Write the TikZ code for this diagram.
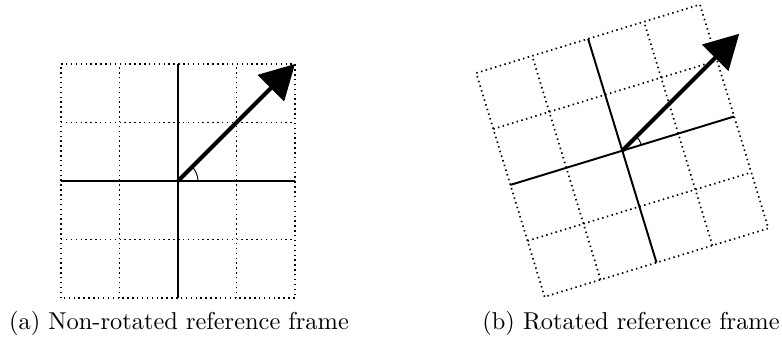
\documentclass[tikz,border=0pt]{standalone}
\usetikzlibrary{arrows.meta}
\begin{document}
\begin{tikzpicture}[x=0.41pt,y=0.41pt,
  gridline/.style={line width=0.7pt, dash pattern=on 0.6pt off 1.4pt},
  axisline/.style={line width=0.8pt},
  vec/.style={line width=1.6pt,-{Triangle[length=14pt,width=15pt]}},
  anglearc/.style={line width=0.4pt},
  captext/.style={anchor=base, inner sep=0pt}]
\useasboundingbox (0,0) rectangle (782,341);
% ---------- (a) non-rotated ----------
\begin{scope}[shift={(178,160)}]
  \coordinate (oa) at (0,0);
  \draw[gridline] (-117,-117) rectangle (117,117);
  \foreach \i in {-1,1} {
    \draw[gridline] (\i*58.5,-117) -- (\i*58.5,117);
    \draw[gridline] (-117,\i*58.5) -- (117,\i*58.5);
  }
  \coordinate (xla) at (-117,0);
  \coordinate (xra) at (117,0);
  \coordinate (yba) at (0,-117);
  \coordinate (yta) at (0,117);
  \coordinate (ta) at (117,117);
  \draw[axisline] (xla) -- (xra);
  \draw[axisline] (yba) -- (yta);
  \draw[anglearc] (20,0) arc[start angle=0,end angle=45,radius=20];
\end{scope}
\draw[vec] (oa) -- (ta);
% ---------- (b) rotated ----------
\begin{scope}[shift={(622.3,190.3)},rotate=17]
  \coordinate (ob) at (0,0);
  \draw[gridline] (-117,-117) rectangle (117,117);
  \foreach \i in {-1,1} {
    \draw[gridline] (\i*58.5,-117) -- (\i*58.5,117);
    \draw[gridline] (-117,\i*58.5) -- (117,\i*58.5);
  }
  \coordinate (xlb) at (-117,0);
  \coordinate (xrb) at (117,0);
  \coordinate (ybb) at (0,-117);
  \coordinate (ytb) at (0,117);
  \draw[axisline] (xlb) -- (xrb);
  \draw[axisline] (ybb) -- (ytb);
\end{scope}
\coordinate (tb) at ([shift={(117,117)}]ob);
\draw[anglearc] ([shift={(17:20)}]ob) arc[start angle=17,end angle=45,radius=20];
\draw[vec] (ob) -- (tb);
% ---------- captions ----------
\node[captext] (capa) at (179,11) {(a) Non-rotated reference frame};
\node[captext] (capb) at (631,11) {(b) Rotated reference frame};
\end{tikzpicture}
\end{document}
